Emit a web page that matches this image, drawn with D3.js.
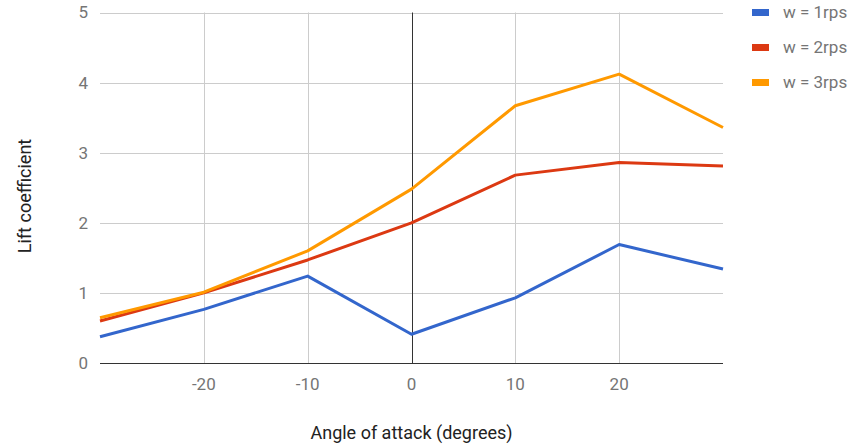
<!DOCTYPE html>
<html>
<head>
<meta charset="utf-8">
<script src="https://cdn.jsdelivr.net/npm/d3@7"></script>
<style>
  html, body { margin: 0; padding: 0; background: #fff; }
  svg { display: block; font-family: Roboto, "Noto Sans", sans-serif; }
</style>
</head>
<body>
<svg id="chart" width="856" height="444"></svg>
<script>
const angles = [-30, -20, -10, 0, 10, 20, 30];
const seriesNames = ["w = 1rps", "w = 2rps", "w = 3rps"];
const w1 = [0.375, 0.765, 1.24, 0.41, 0.93, 1.69, 1.34];
const w2 = [0.60, 1.00, 1.47, 2.00, 2.68, 2.86, 2.81];
const w3 = [0.645, 1.01, 1.60, 2.48, 3.67, 4.12, 3.36];
const colors = ["#3366cc", "#dc3912", "#ff9900"];
const xTicks = [-20, -10, 0, 10, 20];
const yTicks = [0, 1, 2, 3, 4, 5];

(function () {
const series = [w1, w2, w3];
const svg = d3.select("#chart");
const pLeft = 100, pRight = 723, pTop = 12.5, pBottom = 363;
const x = d3.scaleLinear().domain([-30, 30]).range([pLeft, pRight]);
const y = d3.scaleLinear().domain([0, 5]).range([pBottom, pTop]);

// horizontal gridlines
svg.append("g").selectAll("line").data(yTicks.filter(d => d !== 0)).join("line")
  .attr("x1", pLeft).attr("x2", pRight)
  .attr("y1", d => Math.round(y(d)) + 0.5).attr("y2", d => Math.round(y(d)) + 0.5)
  .attr("stroke", "#cccccc").attr("stroke-width", 1);
// vertical gridlines
svg.append("g").selectAll("line").data(xTicks.filter(d => d !== 0)).join("line")
  .attr("x1", d => Math.round(x(d)) + 0.5).attr("x2", d => Math.round(x(d)) + 0.5)
  .attr("y1", pTop).attr("y2", pBottom)
  .attr("stroke", "#cccccc").attr("stroke-width", 1);
// zero lines
svg.append("line")
  .attr("x1", Math.round(x(0)) + 0.5).attr("x2", Math.round(x(0)) + 0.5)
  .attr("y1", pTop).attr("y2", pBottom)
  .attr("stroke", "#333333").attr("stroke-width", 1);
svg.append("line")
  .attr("x1", pLeft).attr("x2", pRight)
  .attr("y1", Math.round(y(0)) + 0.5).attr("y2", Math.round(y(0)) + 0.5)
  .attr("stroke", "#333333").attr("stroke-width", 1);

// y tick labels
svg.append("g").selectAll("text").data(yTicks).join("text")
  .attr("x", 88).attr("y", d => y(d)).attr("dy", "0.35em")
  .attr("text-anchor", "end").attr("font-size", 17).attr("fill", "#757575")
  .text(d => d);
// x tick labels
svg.append("g").selectAll("text").data(xTicks).join("text")
  .attr("x", d => x(d)).attr("y", 384).attr("dy", "0.35em")
  .attr("text-anchor", "middle").attr("font-size", 17).attr("fill", "#757575")
  .text(d => d);

// axis titles
svg.append("text").attr("x", x(0)).attr("y", 433).attr("dy", "0.35em")
  .attr("text-anchor", "middle").attr("font-size", 18).attr("fill", "#222222")
  .text("Angle of attack (degrees)");
svg.append("text").attr("transform", "translate(25,196) rotate(-90)").attr("dy", "0.35em")
  .attr("text-anchor", "middle").attr("font-size", 18).attr("fill", "#222222")
  .text("Lift coefficient");

// lines
const line = d3.line().x((d, i) => x(angles[i])).y(d => y(d));
svg.append("g").selectAll("path").data(series).join("path")
  .attr("d", d => line(d))
  .attr("fill", "none")
  .attr("stroke", (d, i) => colors[i])
  .attr("stroke-width", 3)
  .attr("stroke-linejoin", "round");

// legend
const lg = svg.append("g").selectAll("g").data(seriesNames).join("g")
  .attr("transform", (d, i) => `translate(752,${12 + i * 35})`);
lg.append("rect").attr("x", 0).attr("y", -3).attr("width", 17).attr("height", 7)
  .attr("fill", (d, i) => colors[i]);
lg.append("text").attr("x", 31).attr("y", 0).attr("dy", "0.35em")
  .attr("font-size", 17).attr("fill", "#757575").text(d => d);
})();
</script>
</body>
</html>
